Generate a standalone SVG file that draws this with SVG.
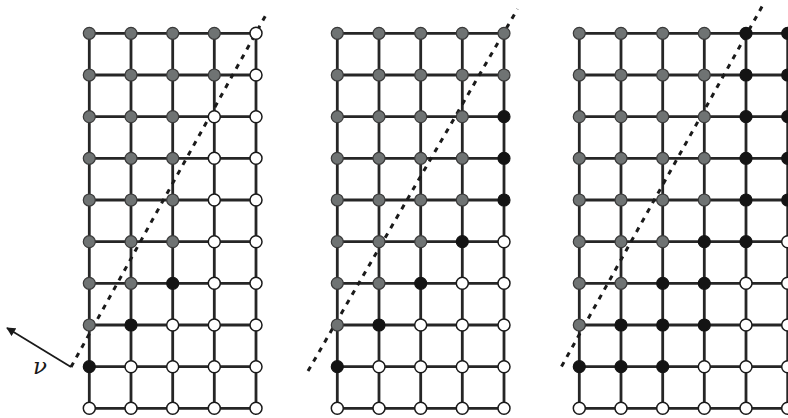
<svg xmlns="http://www.w3.org/2000/svg" width="788" height="418" viewBox="0 0 788 418">
<defs>
<style>
.grid{stroke:#262626;stroke-width:2.8;fill:none}
.dash{stroke:#1a1a1a;stroke-width:3;stroke-dasharray:5 6;fill:none}
.g{fill:#6f7373;stroke:#3a3a3a;stroke-width:1.2}
.w{fill:#ffffff;stroke:#1a1a1a;stroke-width:1.5}
.b{fill:#141414;stroke:#141414;stroke-width:1.2}
.lbl{font-family:"DejaVu Serif","Liberation Serif",serif;font-style:italic;font-size:23px;fill:#1a1a1a}
</style>
<marker id="ah" viewBox="0 0 10 10" refX="9" refY="5" markerWidth="10" markerHeight="9" orient="auto" markerUnits="userSpaceOnUse"><path d="M0,0 L10,5 L0,10 z" fill="#1a1a1a"/></marker>
</defs>
<rect width="788" height="418" fill="#ffffff"/>
<g id="connectors">
<g id="grid1-lines" class="grid">
<path d="M89.3,33.3H256M89.3,75H256M89.3,116.7H256M89.3,158.3H256M89.3,200H256M89.3,241.7H256M89.3,283.3H256M89.3,325H256M89.3,366.7H256M89.3,408.3H256"/>
<path d="M89.3,33.3V408.3M131,33.3V408.3M172.7,33.3V408.3M214.3,33.3V408.3M256,33.3V408.3"/>
</g>
<g id="grid2-lines" class="grid">
<path d="M337.3,33.3H504M337.3,75H504M337.3,116.7H504M337.3,158.3H504M337.3,200H504M337.3,241.7H504M337.3,283.3H504M337.3,325H504M337.3,366.7H504M337.3,408.3H504"/>
<path d="M337.3,33.3V408.3M379,33.3V408.3M420.7,33.3V408.3M462.3,33.3V408.3M504,33.3V408.3"/>
</g>
<g id="grid3-lines" class="grid">
<path d="M579.3,33.3H787.7M579.3,75H787.7M579.3,116.7H787.7M579.3,158.3H787.7M579.3,200H787.7M579.3,241.7H787.7M579.3,283.3H787.7M579.3,325H787.7M579.3,366.7H787.7M579.3,408.3H787.7"/>
<path d="M579.3,33.3V408.3M621,33.3V408.3M662.7,33.3V408.3M704.3,33.3V408.3M746,33.3V408.3M787.7,33.3V408.3"/>
</g>
<path id="cut1" class="dash" d="M71,367 L267.5,12"/>
<path id="cut2" class="dash" d="M308,371 L517.5,9"/>
<path id="cut3" class="dash" d="M561.5,366.5 L764,3"/>
<path id="nu-arrow" d="M71,367 L7,328" stroke="#1a1a1a" stroke-width="1.8" fill="none" marker-end="url(#ah)"/>
</g>
<text id="nu-label" class="lbl" x="33" y="374">ν</text>
<g id="grid1-nodes">
<g id="n1-0-0"><circle class="g" cx="89.3" cy="33.3" r="6"/></g>
<g id="n1-0-1"><circle class="g" cx="131" cy="33.3" r="6"/></g>
<g id="n1-0-2"><circle class="g" cx="172.7" cy="33.3" r="6"/></g>
<g id="n1-0-3"><circle class="g" cx="214.3" cy="33.3" r="6"/></g>
<g id="n1-0-4"><circle class="w" cx="256" cy="33.3" r="6"/></g>
<g id="n1-1-0"><circle class="g" cx="89.3" cy="75" r="6"/></g>
<g id="n1-1-1"><circle class="g" cx="131" cy="75" r="6"/></g>
<g id="n1-1-2"><circle class="g" cx="172.7" cy="75" r="6"/></g>
<g id="n1-1-3"><circle class="g" cx="214.3" cy="75" r="6"/></g>
<g id="n1-1-4"><circle class="w" cx="256" cy="75" r="6"/></g>
<g id="n1-2-0"><circle class="g" cx="89.3" cy="116.7" r="6"/></g>
<g id="n1-2-1"><circle class="g" cx="131" cy="116.7" r="6"/></g>
<g id="n1-2-2"><circle class="g" cx="172.7" cy="116.7" r="6"/></g>
<g id="n1-2-3"><circle class="w" cx="214.3" cy="116.7" r="6"/></g>
<g id="n1-2-4"><circle class="w" cx="256" cy="116.7" r="6"/></g>
<g id="n1-3-0"><circle class="g" cx="89.3" cy="158.3" r="6"/></g>
<g id="n1-3-1"><circle class="g" cx="131" cy="158.3" r="6"/></g>
<g id="n1-3-2"><circle class="g" cx="172.7" cy="158.3" r="6"/></g>
<g id="n1-3-3"><circle class="w" cx="214.3" cy="158.3" r="6"/></g>
<g id="n1-3-4"><circle class="w" cx="256" cy="158.3" r="6"/></g>
<g id="n1-4-0"><circle class="g" cx="89.3" cy="200" r="6"/></g>
<g id="n1-4-1"><circle class="g" cx="131" cy="200" r="6"/></g>
<g id="n1-4-2"><circle class="g" cx="172.7" cy="200" r="6"/></g>
<g id="n1-4-3"><circle class="w" cx="214.3" cy="200" r="6"/></g>
<g id="n1-4-4"><circle class="w" cx="256" cy="200" r="6"/></g>
<g id="n1-5-0"><circle class="g" cx="89.3" cy="241.7" r="6"/></g>
<g id="n1-5-1"><circle class="g" cx="131" cy="241.7" r="6"/></g>
<g id="n1-5-2"><circle class="g" cx="172.7" cy="241.7" r="6"/></g>
<g id="n1-5-3"><circle class="w" cx="214.3" cy="241.7" r="6"/></g>
<g id="n1-5-4"><circle class="w" cx="256" cy="241.7" r="6"/></g>
<g id="n1-6-0"><circle class="g" cx="89.3" cy="283.3" r="6"/></g>
<g id="n1-6-1"><circle class="g" cx="131" cy="283.3" r="6"/></g>
<g id="n1-6-2"><circle class="b" cx="172.7" cy="283.3" r="6"/></g>
<g id="n1-6-3"><circle class="w" cx="214.3" cy="283.3" r="6"/></g>
<g id="n1-6-4"><circle class="w" cx="256" cy="283.3" r="6"/></g>
<g id="n1-7-0"><circle class="g" cx="89.3" cy="325" r="6"/></g>
<g id="n1-7-1"><circle class="b" cx="131" cy="325" r="6"/></g>
<g id="n1-7-2"><circle class="w" cx="172.7" cy="325" r="6"/></g>
<g id="n1-7-3"><circle class="w" cx="214.3" cy="325" r="6"/></g>
<g id="n1-7-4"><circle class="w" cx="256" cy="325" r="6"/></g>
<g id="n1-8-0"><circle class="b" cx="89.3" cy="366.7" r="6"/></g>
<g id="n1-8-1"><circle class="w" cx="131" cy="366.7" r="6"/></g>
<g id="n1-8-2"><circle class="w" cx="172.7" cy="366.7" r="6"/></g>
<g id="n1-8-3"><circle class="w" cx="214.3" cy="366.7" r="6"/></g>
<g id="n1-8-4"><circle class="w" cx="256" cy="366.7" r="6"/></g>
<g id="n1-9-0"><circle class="w" cx="89.3" cy="408.3" r="6"/></g>
<g id="n1-9-1"><circle class="w" cx="131" cy="408.3" r="6"/></g>
<g id="n1-9-2"><circle class="w" cx="172.7" cy="408.3" r="6"/></g>
<g id="n1-9-3"><circle class="w" cx="214.3" cy="408.3" r="6"/></g>
<g id="n1-9-4"><circle class="w" cx="256" cy="408.3" r="6"/></g>
</g>
<g id="grid2-nodes">
<g id="n2-0-0"><circle class="g" cx="337.3" cy="33.3" r="6"/></g>
<g id="n2-0-1"><circle class="g" cx="379" cy="33.3" r="6"/></g>
<g id="n2-0-2"><circle class="g" cx="420.7" cy="33.3" r="6"/></g>
<g id="n2-0-3"><circle class="g" cx="462.3" cy="33.3" r="6"/></g>
<g id="n2-0-4"><circle class="g" cx="504" cy="33.3" r="6"/></g>
<g id="n2-1-0"><circle class="g" cx="337.3" cy="75" r="6"/></g>
<g id="n2-1-1"><circle class="g" cx="379" cy="75" r="6"/></g>
<g id="n2-1-2"><circle class="g" cx="420.7" cy="75" r="6"/></g>
<g id="n2-1-3"><circle class="g" cx="462.3" cy="75" r="6"/></g>
<g id="n2-1-4"><circle class="g" cx="504" cy="75" r="6"/></g>
<g id="n2-2-0"><circle class="g" cx="337.3" cy="116.7" r="6"/></g>
<g id="n2-2-1"><circle class="g" cx="379" cy="116.7" r="6"/></g>
<g id="n2-2-2"><circle class="g" cx="420.7" cy="116.7" r="6"/></g>
<g id="n2-2-3"><circle class="g" cx="462.3" cy="116.7" r="6"/></g>
<g id="n2-2-4"><circle class="b" cx="504" cy="116.7" r="6"/></g>
<g id="n2-3-0"><circle class="g" cx="337.3" cy="158.3" r="6"/></g>
<g id="n2-3-1"><circle class="g" cx="379" cy="158.3" r="6"/></g>
<g id="n2-3-2"><circle class="g" cx="420.7" cy="158.3" r="6"/></g>
<g id="n2-3-3"><circle class="g" cx="462.3" cy="158.3" r="6"/></g>
<g id="n2-3-4"><circle class="b" cx="504" cy="158.3" r="6"/></g>
<g id="n2-4-0"><circle class="g" cx="337.3" cy="200" r="6"/></g>
<g id="n2-4-1"><circle class="g" cx="379" cy="200" r="6"/></g>
<g id="n2-4-2"><circle class="g" cx="420.7" cy="200" r="6"/></g>
<g id="n2-4-3"><circle class="g" cx="462.3" cy="200" r="6"/></g>
<g id="n2-4-4"><circle class="b" cx="504" cy="200" r="6"/></g>
<g id="n2-5-0"><circle class="g" cx="337.3" cy="241.7" r="6"/></g>
<g id="n2-5-1"><circle class="g" cx="379" cy="241.7" r="6"/></g>
<g id="n2-5-2"><circle class="g" cx="420.7" cy="241.7" r="6"/></g>
<g id="n2-5-3"><circle class="b" cx="462.3" cy="241.7" r="6"/></g>
<g id="n2-5-4"><circle class="w" cx="504" cy="241.7" r="6"/></g>
<g id="n2-6-0"><circle class="g" cx="337.3" cy="283.3" r="6"/></g>
<g id="n2-6-1"><circle class="g" cx="379" cy="283.3" r="6"/></g>
<g id="n2-6-2"><circle class="b" cx="420.7" cy="283.3" r="6"/></g>
<g id="n2-6-3"><circle class="w" cx="462.3" cy="283.3" r="6"/></g>
<g id="n2-6-4"><circle class="w" cx="504" cy="283.3" r="6"/></g>
<g id="n2-7-0"><circle class="g" cx="337.3" cy="325" r="6"/></g>
<g id="n2-7-1"><circle class="b" cx="379" cy="325" r="6"/></g>
<g id="n2-7-2"><circle class="w" cx="420.7" cy="325" r="6"/></g>
<g id="n2-7-3"><circle class="w" cx="462.3" cy="325" r="6"/></g>
<g id="n2-7-4"><circle class="w" cx="504" cy="325" r="6"/></g>
<g id="n2-8-0"><circle class="b" cx="337.3" cy="366.7" r="6"/></g>
<g id="n2-8-1"><circle class="w" cx="379" cy="366.7" r="6"/></g>
<g id="n2-8-2"><circle class="w" cx="420.7" cy="366.7" r="6"/></g>
<g id="n2-8-3"><circle class="w" cx="462.3" cy="366.7" r="6"/></g>
<g id="n2-8-4"><circle class="w" cx="504" cy="366.7" r="6"/></g>
<g id="n2-9-0"><circle class="w" cx="337.3" cy="408.3" r="6"/></g>
<g id="n2-9-1"><circle class="w" cx="379" cy="408.3" r="6"/></g>
<g id="n2-9-2"><circle class="w" cx="420.7" cy="408.3" r="6"/></g>
<g id="n2-9-3"><circle class="w" cx="462.3" cy="408.3" r="6"/></g>
<g id="n2-9-4"><circle class="w" cx="504" cy="408.3" r="6"/></g>
</g>
<g id="grid3-nodes">
<g id="n3-0-0"><circle class="g" cx="579.3" cy="33.3" r="6"/></g>
<g id="n3-0-1"><circle class="g" cx="621" cy="33.3" r="6"/></g>
<g id="n3-0-2"><circle class="g" cx="662.7" cy="33.3" r="6"/></g>
<g id="n3-0-3"><circle class="g" cx="704.3" cy="33.3" r="6"/></g>
<g id="n3-0-4"><circle class="b" cx="746" cy="33.3" r="6"/></g>
<g id="n3-0-5"><circle class="b" cx="787.7" cy="33.3" r="6"/></g>
<g id="n3-1-0"><circle class="g" cx="579.3" cy="75" r="6"/></g>
<g id="n3-1-1"><circle class="g" cx="621" cy="75" r="6"/></g>
<g id="n3-1-2"><circle class="g" cx="662.7" cy="75" r="6"/></g>
<g id="n3-1-3"><circle class="g" cx="704.3" cy="75" r="6"/></g>
<g id="n3-1-4"><circle class="b" cx="746" cy="75" r="6"/></g>
<g id="n3-1-5"><circle class="b" cx="787.7" cy="75" r="6"/></g>
<g id="n3-2-0"><circle class="g" cx="579.3" cy="116.7" r="6"/></g>
<g id="n3-2-1"><circle class="g" cx="621" cy="116.7" r="6"/></g>
<g id="n3-2-2"><circle class="g" cx="662.7" cy="116.7" r="6"/></g>
<g id="n3-2-3"><circle class="g" cx="704.3" cy="116.7" r="6"/></g>
<g id="n3-2-4"><circle class="b" cx="746" cy="116.7" r="6"/></g>
<g id="n3-2-5"><circle class="b" cx="787.7" cy="116.7" r="6"/></g>
<g id="n3-3-0"><circle class="g" cx="579.3" cy="158.3" r="6"/></g>
<g id="n3-3-1"><circle class="g" cx="621" cy="158.3" r="6"/></g>
<g id="n3-3-2"><circle class="g" cx="662.7" cy="158.3" r="6"/></g>
<g id="n3-3-3"><circle class="g" cx="704.3" cy="158.3" r="6"/></g>
<g id="n3-3-4"><circle class="b" cx="746" cy="158.3" r="6"/></g>
<g id="n3-3-5"><circle class="b" cx="787.7" cy="158.3" r="6"/></g>
<g id="n3-4-0"><circle class="g" cx="579.3" cy="200" r="6"/></g>
<g id="n3-4-1"><circle class="g" cx="621" cy="200" r="6"/></g>
<g id="n3-4-2"><circle class="g" cx="662.7" cy="200" r="6"/></g>
<g id="n3-4-3"><circle class="g" cx="704.3" cy="200" r="6"/></g>
<g id="n3-4-4"><circle class="b" cx="746" cy="200" r="6"/></g>
<g id="n3-4-5"><circle class="b" cx="787.7" cy="200" r="6"/></g>
<g id="n3-5-0"><circle class="g" cx="579.3" cy="241.7" r="6"/></g>
<g id="n3-5-1"><circle class="g" cx="621" cy="241.7" r="6"/></g>
<g id="n3-5-2"><circle class="g" cx="662.7" cy="241.7" r="6"/></g>
<g id="n3-5-3"><circle class="b" cx="704.3" cy="241.7" r="6"/></g>
<g id="n3-5-4"><circle class="b" cx="746" cy="241.7" r="6"/></g>
<g id="n3-5-5"><circle class="w" cx="787.7" cy="241.7" r="6"/></g>
<g id="n3-6-0"><circle class="g" cx="579.3" cy="283.3" r="6"/></g>
<g id="n3-6-1"><circle class="g" cx="621" cy="283.3" r="6"/></g>
<g id="n3-6-2"><circle class="b" cx="662.7" cy="283.3" r="6"/></g>
<g id="n3-6-3"><circle class="b" cx="704.3" cy="283.3" r="6"/></g>
<g id="n3-6-4"><circle class="w" cx="746" cy="283.3" r="6"/></g>
<g id="n3-6-5"><circle class="w" cx="787.7" cy="283.3" r="6"/></g>
<g id="n3-7-0"><circle class="g" cx="579.3" cy="325" r="6"/></g>
<g id="n3-7-1"><circle class="b" cx="621" cy="325" r="6"/></g>
<g id="n3-7-2"><circle class="b" cx="662.7" cy="325" r="6"/></g>
<g id="n3-7-3"><circle class="b" cx="704.3" cy="325" r="6"/></g>
<g id="n3-7-4"><circle class="w" cx="746" cy="325" r="6"/></g>
<g id="n3-7-5"><circle class="w" cx="787.7" cy="325" r="6"/></g>
<g id="n3-8-0"><circle class="b" cx="579.3" cy="366.7" r="6"/></g>
<g id="n3-8-1"><circle class="b" cx="621" cy="366.7" r="6"/></g>
<g id="n3-8-2"><circle class="b" cx="662.7" cy="366.7" r="6"/></g>
<g id="n3-8-3"><circle class="w" cx="704.3" cy="366.7" r="6"/></g>
<g id="n3-8-4"><circle class="w" cx="746" cy="366.7" r="6"/></g>
<g id="n3-8-5"><circle class="w" cx="787.7" cy="366.7" r="6"/></g>
<g id="n3-9-0"><circle class="w" cx="579.3" cy="408.3" r="6"/></g>
<g id="n3-9-1"><circle class="w" cx="621" cy="408.3" r="6"/></g>
<g id="n3-9-2"><circle class="w" cx="662.7" cy="408.3" r="6"/></g>
<g id="n3-9-3"><circle class="w" cx="704.3" cy="408.3" r="6"/></g>
<g id="n3-9-4"><circle class="w" cx="746" cy="408.3" r="6"/></g>
<g id="n3-9-5"><circle class="w" cx="787.7" cy="408.3" r="6"/></g>
</g>
</svg>
